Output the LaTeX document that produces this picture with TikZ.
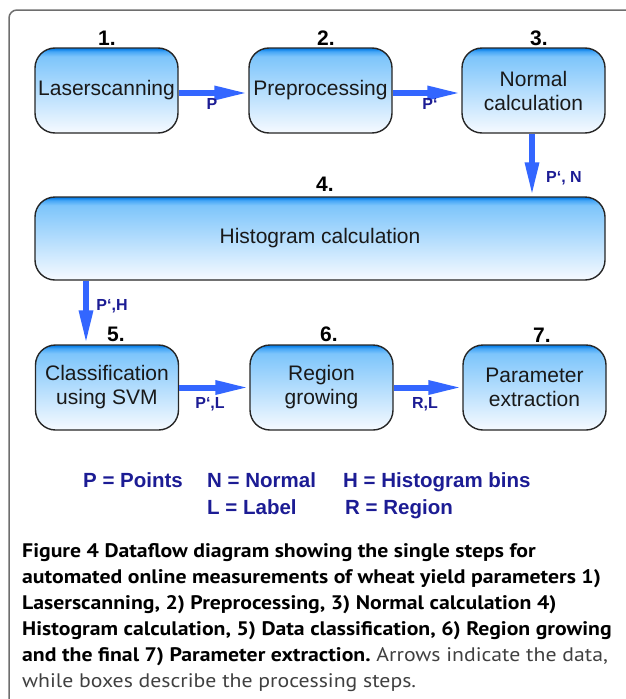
\documentclass[tikz,border=0pt]{standalone}
\usepackage{fontspec}
\setmainfont{Liberation Sans}
\newfontfamily\capfont[FakeStretch=1.11]{PT Sans}
\usetikzlibrary{arrows.meta}
\definecolor{arrowblue}{HTML}{3366FF}
\definecolor{labelblue}{HTML}{1C1C94}
\definecolor{framegray}{HTML}{6E6E6E}
\definecolor{boxtop}{HTML}{0A7FE8}
\definecolor{boxmid}{HTML}{45A6F6}
\definecolor{boxlight}{HTML}{7DC5FB}
\definecolor{boxwhite}{HTML}{F6FAFF}
\definecolor{capgray}{HTML}{404040}
\pgfdeclareverticalshading{boxshade}{100bp}{color(0bp)=(boxwhite); color(25bp)=(boxwhite); color(70bp)=(boxlight); color(73bp)=(boxmid); color(74.5bp)=(boxtop); color(100bp)=(boxtop)}
\tikzset{
  box/.style={draw=black!85, line width=1.4pt, rounded corners=20pt, shading=boxshade,
    minimum width=143pt, minimum height=85pt, inner sep=0pt, align=center,
    font=\fontsize{21}{24}\selectfont, text=black!90},
  flow/.style={arrowblue, line width=6pt, -{Triangle[length=34pt,width=13pt]}},
  stepnum/.style={inner sep=0pt, font=\bfseries\fontsize{21}{24}\selectfont},
  dlabel/.style={inner sep=0pt, text=labelblue, font=\bfseries\fontsize{16}{18}\selectfont},
  legend/.style={anchor=base west, inner sep=0pt, text=labelblue, font=\bfseries\fontsize{20.5}{24}\selectfont},
  capline/.style={anchor=base west, inner sep=0pt, font=\capfont\fontsize{19.6}{26}\selectfont}
}
\begin{document}
\begin{tikzpicture}[x=1pt,y=-1pt]
\useasboundingbox (0,0) rectangle (625,699);
\draw[framegray, line width=1.5pt, rounded corners=8pt] (660,10) -- (9,10) -- (9,730);

% boxes
\node[box] (b1) at (106.5,90.5) {Laserscanning};
\node[box] (b2) at (320.5,90.5) {Preprocessing};
\node[box] (b3) at (533.5,90.5) {Normal\\calculation};
\node[box, minimum width=570pt, minimum height=83pt] (b4) at (320,238.5) {Histogram calculation};
\node[box] (b5) at (107,387.5) {Classification\\using SVM};
\node[box] (b6) at (321.5,387.5) {Region\\growing};
\node[box] (b7) at (534.5,387.5) {Parameter\\extraction};

% step numbers
\node[stepnum] (n1) at (107,38) {1.};
\node[stepnum] (n2) at (326,38) {2.};
\node[stepnum] (n3) at (539,38) {3.};
\node[stepnum] (n4) at (325,184) {4.};
\node[stepnum] (n5) at (116,334) {5.};
\node[stepnum] (n6) at (329,334) {6.};
\node[stepnum] (n7) at (542,335) {7.};

% connectors
\coordinate (c45) at (86,0);
\coordinate (c34) at (532,0);
\draw[flow] ([yshift=-2.5pt]b1.east) -- ([yshift=-2.5pt]b2.west);
\draw[flow] ([yshift=-2.5pt]b2.east) -- ([yshift=-2.5pt]b3.west);
\draw[flow] (b3.south -| c34) -- (b4.north -| c34);
\draw[flow] (b4.south -| c45) -- (b5.north -| c45);
\draw[flow] (b5.east) -- (b6.west);
\draw[flow] (b6.east) -- (b7.west);

% connector labels
\node[dlabel] (l12) at (212,104) {P};
\node[dlabel] (l23) at (430,104) {P‘};
\node[dlabel] (l34) at (564,178) {P‘, N};
\node[dlabel] (l45) at (112,306) {P‘,H};
\node[dlabel] (l56) at (210,404) {P‘,L};
\node[dlabel] (l67) at (425,404) {R,L};

% legend
\node[legend] (g1) at (83,487.5) {P = Points};
\node[legend] (g2) at (207,487.5) {N = Normal};
\node[legend] (g3) at (343,487.5) {H = Histogram bins};
\node[legend] (g4) at (207,514) {L = Label};
\node[legend] (g5) at (345,514) {R = Region};

% caption
\node[capline] (cap1) at (22,557) {\bfseries Figure 4 Dataflow diagram showing the single steps for};
\node[capline] (cap2) at (22,583) {\bfseries automated online measurements of wheat yield parameters 1)};
\node[capline] (cap3) at (22,609) {\bfseries Laserscanning, 2) Preprocessing, 3) Normal calculation 4)};
\node[capline] (cap4) at (22,635) {\bfseries Histogram calculation, 5) Data classification, 6) Region growing};
\node[capline] (cap5) at (22,661) {{\bfseries and the final 7) Parameter extraction.}\ {\color{capgray}Arrows indicate the data,}};
\node[capline, text=capgray] (cap6) at (22,687) {while boxes describe the processing steps.};
\end{tikzpicture}
\end{document}
